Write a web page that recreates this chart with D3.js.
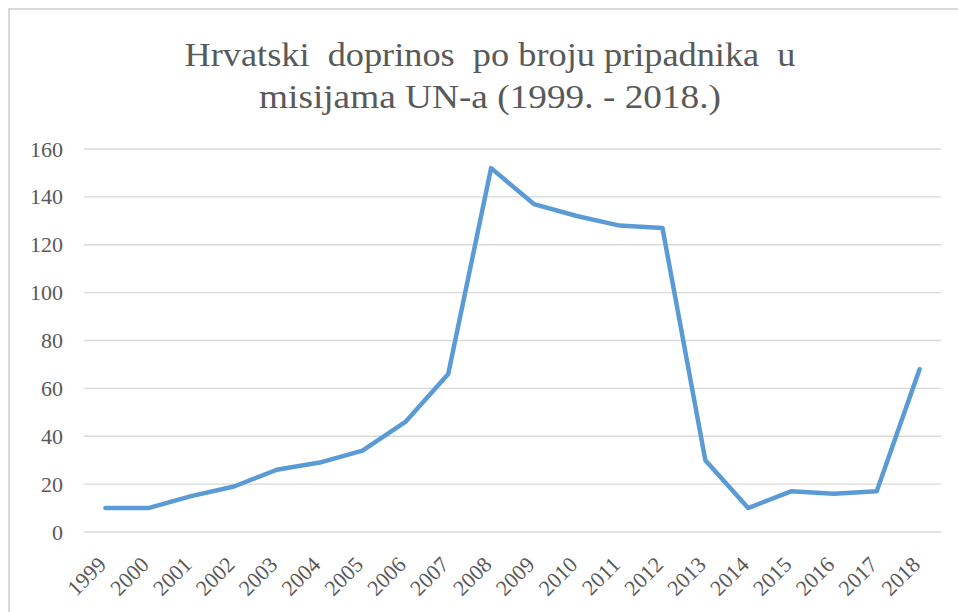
<!DOCTYPE html>
<html>
<head>
<meta charset="utf-8">
<script src="https://cdn.jsdelivr.net/npm/d3@7"></script>
<style>
  html, body { margin: 0; padding: 0; background: #fff; }
  svg { display: block; }
</style>
</head>
<body>
<svg id="chart" width="958" height="612"></svg>
<script>
const titleLines = ["Hrvatski  doprinos  po broju pripadnika  u", "misijama UN-a (1999. - 2018.)"];
const years = ["1999","2000","2001","2002","2003","2004","2005","2006","2007","2008","2009","2010","2011","2012","2013","2014","2015","2016","2017","2018"];
const values = [10, 10, 15, 19, 26, 29, 34, 46, 66, 152, 137, 132, 128, 127, 30, 10, 17, 16, 17, 68];
const yTicks = [0, 20, 40, 60, 80, 100, 120, 140, 160];

const svg = d3.select("#chart");
const W = 958, H = 612;
const m = { left: 84, right: 17, top: 149, bottom: 80 };
const serif = "'Liberation Serif', 'Times New Roman', serif";

svg.append("rect").attr("x", 9).attr("y", 9).attr("width", W).attr("height", H)
  .attr("fill", "#fff").attr("stroke", "#d9d9d9").attr("stroke-width", 2);

const x = d3.scaleBand().domain(years).range([m.left, W - m.right]);
const y = d3.scaleLinear().domain([0, 160]).range([H - m.bottom, m.top]);

// gridlines
svg.append("g").selectAll("line").data(yTicks).join("line")
  .attr("x1", m.left).attr("x2", W - m.right)
  .attr("y1", d => y(d)).attr("y2", d => y(d))
  .attr("stroke", "#d9d9d9").attr("stroke-width", 1.3);

// y axis labels
const yAxis = d3.axisLeft(y).tickValues(yTicks).tickSize(0).tickPadding(0);
const yg = svg.append("g").attr("transform", `translate(63,0)`).call(yAxis);
yg.select(".domain").remove();
yg.selectAll("text")
  .style("font-family", serif)
  .style("font-size", "22px")
  .style("fill", "#595959");

// x axis labels
const xAxis = d3.axisBottom(x).tickSize(0).tickPadding(0);
const xg = svg.append("g").attr("transform", `translate(0,${H - m.bottom})`).call(xAxis);
xg.select(".domain").remove();
xg.selectAll("text")
  .style("font-family", serif)
  .style("font-size", "22px")
  .style("fill", "#595959")
  .attr("text-anchor", "end")
  .attr("y", 0)
  .attr("dy", 0)
  .attr("transform", "translate(2,34) rotate(-45)");

// line
const line = d3.line()
  .x((d, i) => x(years[i]) + x.bandwidth() / 2)
  .y(d => y(d));
svg.append("path").datum(values)
  .attr("d", line).attr("fill", "none")
  .attr("stroke", "#5b9bd5").attr("stroke-width", 4.5)
  .attr("stroke-linejoin", "round").attr("stroke-linecap", "round");

// title
const titleWidths = [611, 462];
const tg = svg.append("g");
titleLines.forEach((t, i) => {
  tg.append("text")
    .attr("x", 490).attr("y", 66 + i * 42)
    .attr("text-anchor", "middle")
    .style("font-family", serif)
    .style("font-size", "33px")
    .style("fill", "#595959")
    .style("white-space", "pre")
    .attr("textLength", titleWidths[i]).attr("lengthAdjust", "spacingAndGlyphs")
    .text(t);
});
</script>
</body>
</html>
